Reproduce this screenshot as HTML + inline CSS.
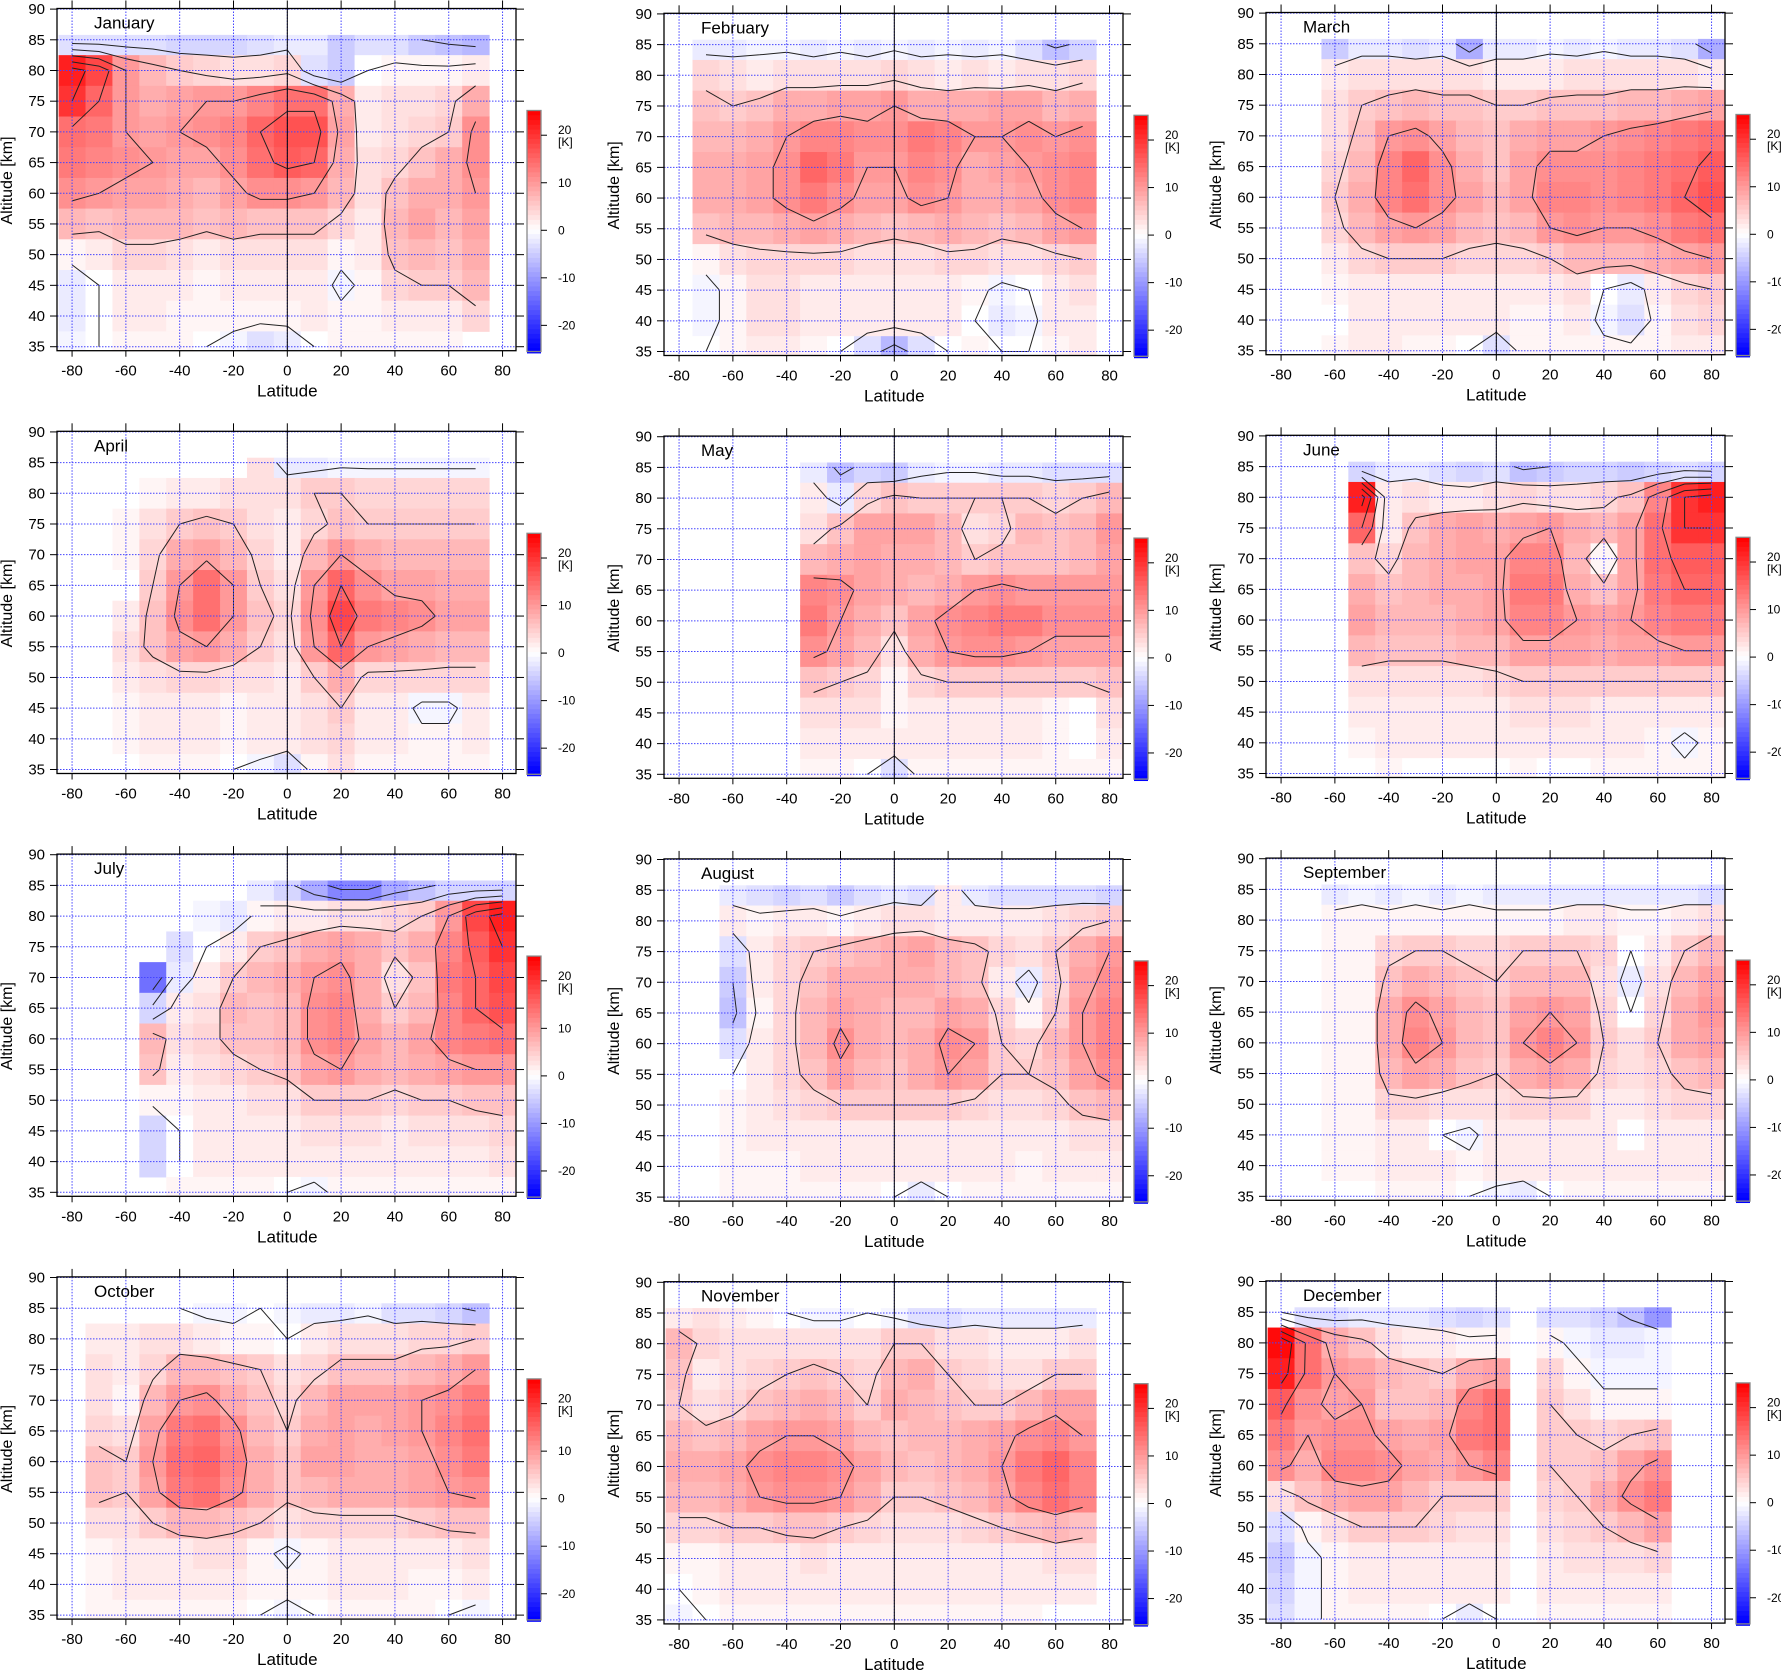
<!DOCTYPE html>
<html><head><meta charset="utf-8">
<style>
body{margin:0;background:#fff;}
svg text{font-family:"Liberation Sans",Arial,sans-serif;}
</style></head>
<body>
<svg id="chart" xmlns="http://www.w3.org/2000/svg" width="1781" height="1671" viewBox="0 0 1781 1671"></svg>
<script>
const months = ["January","February","March","April","May","June","July","August","September","October","November","December"];
const lats = [-80,-70,-60,-50,-40,-30,-20,-10,0,10,20,30,40,50,60,70,80];
const alts = [85,80,75,70,65,60,55,50,45,40,35];
const xTicks = [-80,-60,-40,-20,0,20,40,60,80];
const yTicks = [35,40,45,50,55,60,65,70,75,80,85,90];
const cbTicks = [-20,-10,0,10,20];
const levels = [-10,-5,0,5,10,15,20];

const janData = [
"-3,-3,-3,-3,-4,-4,-4,-3,-2,-2,-5,-3,-3,-5,-6,-7,n",
"22,18,10,7,5,4,3,3,4,-3,-5,0,1,1,1,2,n",
"20,15,10,8,9,10,10,12,14,14,8,2,3,3,4,8,n",
"14,13,10,9,10,11,12,15,17,17,9,2,3,4,5,11,n",
"13,12,11,10,9,9,11,14,16,15,8,3,4,6,8,11,n",
"11,10,9,9,8,7,9,11,11,10,7,3,6,8,8,10,n",
"7,6,7,7,7,6,7,6,6,6,4,2,7,9,7,9,n",
"1,2,4,4,3,2,3,3,3,3,1,2,6,7,6,8,n",
"-2,0,2,2,2,1,2,2,2,2,-1,1,4,5,5,7,n",
"-2,0,2,2,1,1,1,1,1,2,1,1,2,2,2,4,n",
"-1,0,1,1,1,0,-1,-3,-2,0,1,1,1,1,1,n,n"];
const febData = [
"n,-2,-2,-1,-1,-2,-1,-2,-1,-2,-1,-2,-1,-3,-6,-4,n",
"n,4,3,2,3,3,3,3,4,3,2,3,2,3,3,4,n",
"n,6,5,6,8,8,9,9,10,8,8,8,9,9,7,8,n",
"n,7,7,8,10,12,12,11,11,13,12,10,10,11,10,11,n",
"n,8,8,9,11,15,13,10,10,12,11,8,9,10,11,12,n",
"n,8,8,9,11,13,11,9,9,11,10,8,8,9,11,12,n",
"n,6,7,7,8,9,8,7,6,7,8,7,6,7,9,10,n",
"n,1,3,4,4,4,4,3,3,3,4,4,3,3,4,5,n",
"n,-1,1,3,3,2,2,2,2,2,2,1,-1,0,2,3,n",
"n,-1,1,3,3,2,2,2,2,2,2,0,-2,-1,2,2,n",
"n,0,1,2,2,1,0,-3,-7,-3,0,1,0,0,1,2,n"];
const marData = [
"n,n,-5,-2,-2,-3,-2,-8,-2,-2,-1,-2,-1,-2,-2,-3,-8",
"n,n,2,3,3,3,3,3,2,2,2,3,3,3,3,3,2",
"n,n,3,5,6,7,6,6,5,5,6,6,6,7,7,8,9",
"n,n,3,6,10,11,9,7,6,8,9,9,10,11,12,13,14",
"n,n,4,7,12,15,11,8,6,9,11,11,11,12,13,14,16",
"n,n,5,8,12,14,11,9,7,9,12,12,11,12,13,15,17",
"n,n,4,7,9,10,9,7,6,7,10,11,10,10,11,13,14",
"n,n,2,4,5,5,5,4,4,4,5,7,7,7,8,9,10",
"n,n,1,2,2,2,2,2,2,2,2,3,0,-2,2,4,5",
"n,n,0,2,2,2,2,2,2,1,1,2,-1,-3,1,3,4",
"n,n,1,2,2,1,1,0,-3,1,1,1,1,1,1,2,2"];
const aprData = [
"n,n,n,n,n,n,n,3,-2,-2,-1,-1,-1,-1,-1,-1,n",
"n,n,0,1,2,2,3,3,3,5,5,4,4,4,4,4,n",
"n,n,1,3,5,6,5,3,2,4,6,5,5,5,5,5,n",
"n,n,1,4,8,9,7,4,2,7,10,8,7,7,7,7,n",
"n,n,0,5,10,14,10,5,3,10,15,11,9,9,8,8,n",
"n,n,2,6,11,14,10,6,4,11,18,13,12,11,9,9,n",
"n,n,3,6,9,10,8,5,3,10,15,10,9,8,7,7,n",
"n,n,2,3,4,4,3,3,2,5,8,4,4,4,4,4,n",
"n,n,1,2,2,2,1,2,2,3,5,2,2,-1,-1,2,n",
"n,n,1,2,2,2,1,2,2,3,4,2,2,1,1,2,n",
"n,n,0,1,1,1,0,-1,-3,1,3,1,1,1,1,1,n"];
const mayData = [
"n,n,n,n,n,-2,-6,-4,-5,-2,-1,-1,-2,-2,-3,-3,-3",
"n,n,n,n,n,2,-2,4,6,5,5,5,5,5,4,5,7",
"n,n,n,n,n,3,6,9,9,9,7,3,4,7,6,7,10",
"n,n,n,n,n,7,8,9,8,8,7,5,6,6,6,7,9",
"n,n,n,n,n,12,11,9,8,7,8,10,11,10,10,10,10",
"n,n,n,n,n,13,10,8,6,9,11,12,13,13,11,11,11",
"n,n,n,n,n,11,9,7,3,8,10,11,11,10,9,9,9",
"n,n,n,n,n,6,5,4,1,4,5,5,5,5,5,5,6",
"n,n,n,n,n,3,3,3,1,2,2,2,2,2,1,0,3",
"n,n,n,n,n,2,2,2,2,2,2,2,2,2,1,0,2",
"n,n,n,n,n,1,1,0,-3,1,1,1,1,1,1,1,1"];
const junData = [
"n,n,n,-4,-2,-2,-3,-4,-3,-6,-5,-4,-4,-5,-4,-3,-4",
"n,n,n,22,2,3,2,2,3,4,3,3,4,6,12,20,22",
"n,n,n,15,2,6,8,9,8,9,10,8,7,9,14,20,20",
"n,n,n,6,4,7,8,9,9,12,12,7,1,9,14,16,16",
"n,n,n,8,6,7,8,8,9,13,13,8,6,9,13,15,15",
"n,n,n,9,7,7,7,8,9,12,12,10,9,10,12,13,13",
"n,n,n,7,6,6,6,7,7,9,9,9,8,9,9,10,10",
"n,n,n,3,3,3,3,3,4,5,5,5,5,5,5,5,5",
"n,n,n,2,2,2,2,2,2,3,3,3,2,2,2,2,2",
"n,n,n,1,2,2,2,2,2,2,2,2,2,2,1,-1,1",
"n,n,n,0,1,0,0,0,0,1,0,0,1,1,1,1,1"];
const julData = [
"n,n,n,n,n,n,n,-2,-4,-8,-12,-12,-8,-6,-4,-4,-4",
"n,n,n,n,n,-1,-2,1,2,2,3,3,4,5,10,18,22",
"n,n,n,n,-3,0,2,5,6,8,9,8,6,8,12,16,20",
"n,n,n,-14,-2,2,5,7,8,10,11,8,3,6,13,15,18",
"n,n,n,-4,2,3,7,6,7,11,12,8,5,7,12,15,17",
"n,n,n,7,3,4,6,6,7,11,12,9,7,9,12,13,14",
"n,n,n,6,2,3,4,5,6,9,10,8,7,8,9,10,10",
"n,n,n,1,1,2,2,3,3,5,5,5,4,5,5,6,6",
"n,n,n,-4,0,2,2,2,2,3,3,3,2,3,3,3,4",
"n,n,n,-4,0,2,2,2,2,2,2,2,2,2,2,2,3",
"n,n,n,n,1,1,1,1,0,-1,1,1,1,1,1,1,1"];
const augData = [
"n,n,-2,-3,-4,-3,-5,-3,-2,-3,2,-2,-3,-3,-3,-3,-4",
"n,n,2,1,2,2,1,2,3,3,2,2,2,2,3,4,5",
"n,n,-3,2,4,5,6,7,8,9,7,6,4,3,5,8,10",
"n,n,-5,2,4,6,8,8,8,8,7,6,2,-2,4,9,11",
"n,n,-6,1,4,7,9,8,7,7,9,8,4,1,5,10,12",
"n,n,-3,2,4,7,11,8,7,8,11,10,5,4,7,10,12",
"n,n,0,2,4,6,9,7,6,8,10,9,5,5,6,9,11",
"n,n,1,2,3,4,5,5,5,5,5,4,3,3,4,6,7",
"n,n,1,2,2,2,2,2,2,2,2,2,2,2,2,3,3",
"n,n,1,1,1,2,2,2,2,2,2,2,2,1,2,2,2",
"n,n,1,1,1,1,1,1,0,-2,0,1,1,1,1,1,1"];
const sepData = [
"n,n,-2,-1,-2,-1,-2,-1,-2,-2,-2,-2,-2,-2,-2,-2,-3",
"n,n,1,1,1,1,1,1,1,1,1,2,2,1,1,2,3",
"n,n,1,1,4,5,5,4,4,5,5,5,4,0,2,5,7",
"n,n,1,1,6,8,7,6,5,7,7,7,3,-2,3,7,9",
"n,n,1,1,8,11,9,7,6,9,10,9,4,0,4,8,10",
"n,n,1,1,8,12,10,7,6,10,12,10,5,3,5,8,9",
"n,n,1,1,7,9,8,6,5,8,9,8,4,3,4,6,7",
"n,n,1,1,4,4,3,3,3,4,4,4,2,2,3,4,4",
"n,n,1,1,2,2,0,-1,2,2,2,2,2,0,2,2,2",
"n,n,1,1,2,2,2,1,2,2,2,2,2,2,2,2,2",
"n,n,0,0,1,1,1,0,-1,-2,0,1,1,1,1,1,1"];
const octData = [
"n,n,0,0,0,-1,-1,0,-1,-2,-2,-1,-3,-3,-4,-6,n",
"n,2,2,3,3,2,1,1,0,2,3,3,3,4,4,5,n",
"n,3,2,4,7,7,6,5,3,4,6,6,6,7,8,10,n",
"n,3,1,7,10,11,8,6,4,7,9,9,9,10,11,13,n",
"n,4,3,9,13,14,11,7,5,8,9,8,9,10,12,14,n",
"n,6,5,10,14,15,12,8,6,9,9,8,8,9,11,13,n",
"n,6,5,9,13,14,11,8,6,7,8,8,8,9,10,11,n",
"n,3,3,5,7,7,6,5,3,4,4,4,4,5,6,6,n",
"n,1,2,2,2,3,3,1,-1,1,2,2,2,2,2,3,n",
"n,1,2,2,2,2,2,1,1,1,2,2,2,1,1,2,n",
"n,1,1,1,1,1,1,0,-1,0,1,1,1,1,0,-1,n"];
const novData = [
"2,3,2,1,0,-1,-1,0,-1,-3,-3,-2,-2,-2,-2,-2,n",
"7,4,3,3,3,3,3,3,5,5,3,3,2,2,2,3,n",
"6,2,3,4,5,6,5,4,7,8,5,4,3,3,5,5,n",
"5,3,4,6,7,8,7,5,8,7,6,5,5,7,9,9,n",
"7,6,7,9,10,10,9,7,6,7,7,8,9,11,12,10,n",
"8,8,9,11,12,12,11,9,7,6,7,8,10,13,15,12,n",
"7,7,8,10,11,11,10,8,5,5,6,7,9,12,14,12,n",
"4,4,5,5,6,6,5,4,3,3,3,4,5,6,7,6,n",
"1,1,2,2,2,3,2,2,2,2,2,2,2,2,3,3,n",
"0,1,2,2,2,2,2,2,2,2,2,2,2,2,2,2,n",
"-1,0,1,1,1,1,1,1,1,1,1,1,1,1,0,0,n"];
const decData = [
"0,-3,-3,-2,-2,-2,-3,-4,-3,n,-3,-3,-4,-6,-10,n,n",
"24,14,8,6,3,2,2,1,1,n,1,-1,-2,-2,-1,n,n",
"22,14,10,9,7,6,5,8,9,n,4,1,-1,-1,-1,n,n",
"16,11,9,10,6,6,7,12,14,n,5,3,1,1,1,n,n",
"13,10,11,11,9,8,9,13,14,n,5,5,4,5,6,n,n",
"11,8,12,12,11,9,8,10,12,n,5,5,6,9,11,n,n",
"3,6,8,9,9,7,5,5,5,n,4,5,8,11,13,n,n",
"-3,1,3,5,5,5,4,3,3,n,3,4,5,7,9,n,n",
"-5,-1,1,2,2,2,2,2,2,n,2,3,3,3,4,n,n",
"-4,-1,1,2,2,2,2,2,2,n,2,2,2,2,2,n,n",
"-3,-1,1,1,1,1,0,-2,0,n,1,1,1,1,1,n,n"];
const allData = [janData,febData,marData,aprData,mayData,junData,julData,augData,sepData,octData,novData,decData];

const NS = "http://www.w3.org/2000/svg";
const svg = document.getElementById('chart');
const colLeft = [57,664,1266];
const colTop = [8.5,13.3,12.5];
const rowStep = 422.8;
const BW = 459, BH = 342.2;
const LAT0 = -85.6, LATR = 170.6;
const ALT_TOP = 90.1, ALTR = 55.75;

function mk(tag, attrs, parent){
  const e = document.createElementNS(NS, tag);
  for (const k in attrs) e.setAttribute(k, attrs[k]);
  (parent||svg).appendChild(e);
  return e;
}
function color(v){
  const t = Math.max(-1, Math.min(1, v/25));
  if (t >= 0) { const g = Math.round(255*(1-t)); return `rgb(255,${g},${g})`; }
  const g = Math.round(255*(1+t)); return `rgb(${g},${g},255)`;
}
function parse(rows){ return rows.map(r => r.split(',').map(s => s==='n'?null:parseFloat(s))); }

months.forEach((m, idx) => {
  const c = idx % 3, r = Math.floor(idx/3);
  const L = colLeft[c], T = colTop[c] + r*rowStep;
  const xS = lat => L + (lat - LAT0) / LATR * BW;
  const yS = alt => T + (ALT_TOP - alt) / ALTR * BH;
  const g = mk('g', {});
  
  
  const grid = parse(allData[idx]);
  const cells = mk('g', {}, g);
  
  
  for (let i = 0; i < alts.length; i++) for (let j = 0; j < lats.length; j++) {
    const v = grid[i][j]; if (v === null) continue;
    const a0 = alts[i] + (i === 0 ? 0.8 : 2.5), a1 = alts[i] - 2.5;
    const x0 = Math.max(xS(lats[j]-5), L), x1 = Math.min(xS(lats[j]+5), L+BW);
    const y0 = yS(a0), y1 = Math.min(yS(a1), T+BH);
    const rc = mk('rect', {x:x0, y:y0, width:x1-x0+0.5, height:y1-y0+0.5, fill:color(v)}, cells);
    
    
  }
  let d = '';
  levels.forEach(lv => {
    for (let i = 0; i < alts.length-1; i++) for (let j = 0; j < lats.length-1; j++) {
      const p = [[i,j],[i,j+1],[i+1,j+1],[i+1,j]];
      const vs = p.map(q => grid[q[0]][q[1]]);
      if (vs.some(v => v === null)) continue;
      const pts = [];
      for (let k = 0; k < 4; k++) {
        const a = p[k], b = p[(k+1)%4], va = vs[k], vb = vs[(k+1)%4];
        if ((va < lv) !== (vb < lv)) {
          const t = (lv - va) / (vb - va);
          const la = lats[a[1]] + t*(lats[b[1]]-lats[a[1]]);
          const al = alts[a[0]] + t*(alts[b[0]]-alts[a[0]]);
          pts.push([xS(la), yS(al)]);
        }
      }
      for (let k = 0; k + 1 < pts.length; k += 2)
        d += `M${pts[k][0].toFixed(1)},${pts[k][1].toFixed(1)}L${pts[k+1][0].toFixed(1)},${pts[k+1][1].toFixed(1)}`;
    }
  });
  const cp = mk('path', {d:d, stroke:'#222', 'stroke-width':1, fill:'none'}, g);
  
  
  xTicks.forEach(t => {
    const gl = mk('line', {x1:xS(t), x2:xS(t), y1:T, y2:T+BH, stroke:'#4444ff', 'stroke-width':1, 'stroke-dasharray':'1.5,1.5'}, g);
    
    
  });
  yTicks.forEach(t => {
    const gl = mk('line', {x1:L, x2:L+BW, y1:yS(t), y2:yS(t), stroke:'#4444ff', 'stroke-width':1, 'stroke-dasharray':'1.5,1.5'}, g);
    
    
  });
  const eq = mk('line', {x1:xS(0), x2:xS(0), y1:T, y2:T+BH, stroke:'#000', 'stroke-width':1}, g);
  
  
  const box = mk('rect', {x:L, y:T, width:BW, height:BH, fill:'none', stroke:'#000', 'stroke-width':1.3}, g);
  
  
  xTicks.forEach(t => {
    mk('line', {x1:xS(t), x2:xS(t), y1:T+BH, y2:T+BH+6, stroke:'#000'}, g);
    mk('line', {x1:xS(t), x2:xS(t), y1:T, y2:T-8, stroke:'#000'}, g);
    const tx = mk('text', {x:xS(t), y:T+BH+25, 'font-size':15, 'text-anchor':'middle'}, g);
    tx.textContent = t;
    
    
  });
  yTicks.forEach(t => {
    mk('line', {x1:L-7, x2:L, y1:yS(t), y2:yS(t), stroke:'#000'}, g);
    mk('line', {x1:L+BW, x2:L+BW+8, y1:yS(t), y2:yS(t), stroke:'#000'}, g);
    const tx = mk('text', {x:L-12, y:yS(t)+5, 'font-size':15, 'text-anchor':'end'}, g);
    tx.textContent = t;
    
    
  });
  const xt = mk('text', {x:xS(0), y:T+BH+46, 'font-size':17, 'text-anchor':'middle'}, g);
  xt.textContent = 'Latitude';
  
  
  const yt = mk('text', {x:0, y:0, 'font-size':16, 'text-anchor':'middle', transform:`translate(${L-45},${T+172}) rotate(-90)`}, g);
  yt.textContent = 'Altitude [km]';
  
  
  const tt = mk('text', {x:L+37, y:T+20, 'font-size':17}, g);
  tt.textContent = m;
  
  
  const cbX = L + 470, cbTop = T + 102, cbBot = T + 343;
  const cbY = v => cbTop + (25.2 - v) / 50.7 * (cbBot - cbTop);
  const cb = mk('g', {}, g);
  
  
  for (let v = 25.2; v > -25.5; v -= 1) {
    mk('rect', {x:cbX, y:cbY(v), width:14, height:cbY(v-1)-cbY(v)+0.5, fill:color(v-0.5)}, cb);
  }
  mk('rect', {x:cbX, y:cbTop, width:14, height:cbBot-cbTop, fill:'none', stroke:'#888', 'stroke-width':1.3}, cb);
  cbTicks.forEach(t => {
    mk('line', {x1:cbX+14, x2:cbX+20, y1:cbY(t), y2:cbY(t), stroke:'#000'}, cb);
    const tx = mk('text', {x:cbX+31, y:cbY(t)+(t===20?-1:4), 'font-size':12}, cb);
    tx.textContent = t;
    
    
  });
  const ku = mk('text', {x:cbX+31, y:cbY(20)+11, 'font-size':12}, cb);
  ku.textContent = '[K]';
  
  
});
</script>
</body></html>
